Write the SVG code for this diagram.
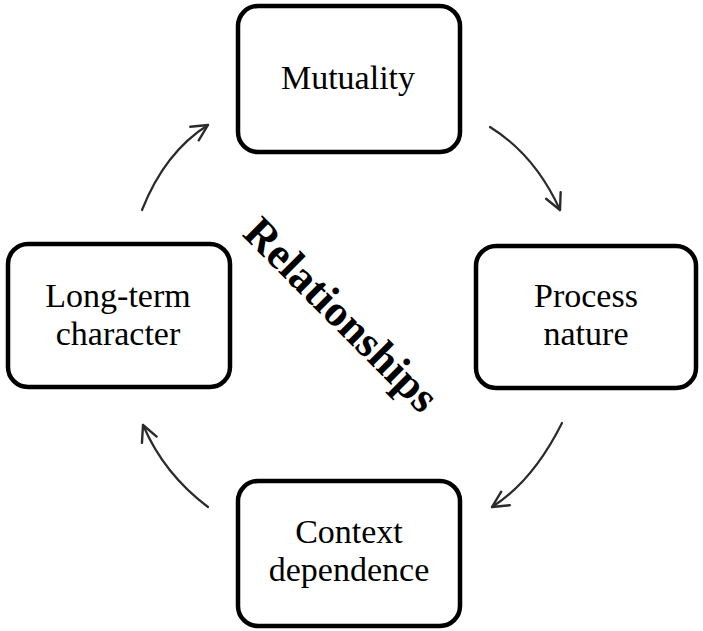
<svg xmlns="http://www.w3.org/2000/svg" width="703" height="631" viewBox="0 0 703 631">
<style>
.box{fill:#fff;stroke:#000;stroke-width:4.5}
.lbl{font-family:"Liberation Serif","Times New Roman",serif;font-size:34px;fill:#000;text-anchor:middle}
.title{font-family:"Liberation Serif","Times New Roman",serif;font-size:44px;font-weight:bold;fill:#000;text-anchor:middle}
.arc{fill:none;stroke:#2a2a2a;stroke-width:2.2;stroke-linecap:round}
</style>
<defs>
<marker id="ah" viewBox="0 0 20 20" refX="18" refY="10" markerWidth="20" markerHeight="20" markerUnits="userSpaceOnUse" orient="auto">
<path d="M2,2 L18,10 L2,18" fill="none" stroke="#2a2a2a" stroke-width="2.4" stroke-linecap="round" stroke-linejoin="round"/>
</marker>
</defs>
<rect width="703" height="631" fill="#fff"/>
<g id="connectors">
<path class="arc" d="M142,210 Q165,152 208,125" marker-end="url(#ah)"/>
<path class="arc" d="M490,127 Q535,155 560,210" marker-end="url(#ah)"/>
<path class="arc" d="M562,423 Q533,481 492,507" marker-end="url(#ah)"/>
<path class="arc" d="M208,507 Q164,474 143,425" marker-end="url(#ah)"/>
</g>
<g id="mutuality">
<rect class="box" x="238" y="6" width="222" height="146" rx="20"/>
<text class="lbl" x="348" y="89">Mutuality</text>
</g>
<g id="process-nature">
<rect class="box" x="476" y="246" width="220" height="142" rx="20"/>
<text class="lbl" x="586" y="307">Process</text>
<text class="lbl" x="586" y="345">nature</text>
</g>
<g id="context-dependence">
<rect class="box" x="238" y="481" width="222" height="145" rx="20"/>
<text class="lbl" x="349" y="543">Context</text>
<text class="lbl" x="349" y="581">dependence</text>
</g>
<g id="long-term-character">
<rect class="box" x="8" y="244" width="222" height="143" rx="20"/>
<text class="lbl" x="118" y="307">Long-term</text>
<text class="lbl" x="118" y="345">character</text>
</g>
<g id="relationships">
<text class="title" transform="translate(341,315) rotate(45)" x="0" y="14">Relationships</text>
</g>
</svg>
